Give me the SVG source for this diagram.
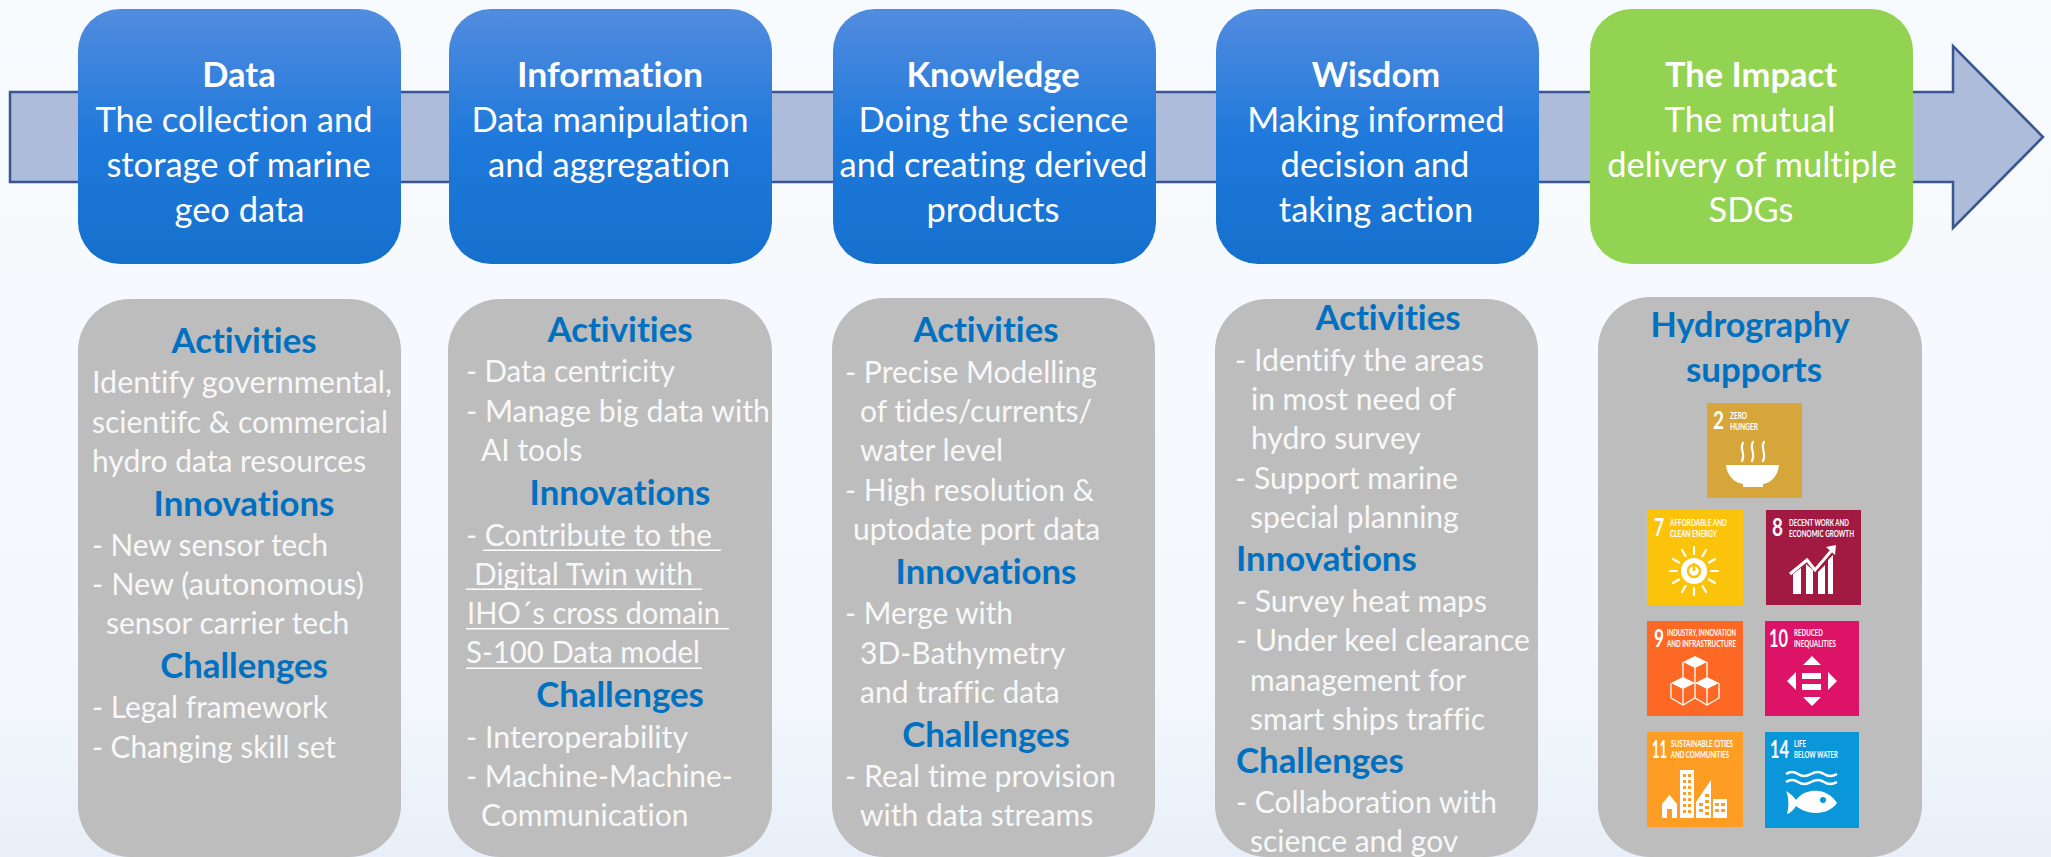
<svg xmlns="http://www.w3.org/2000/svg" width="2051" height="857" viewBox="0 0 2051 857">
<defs>
<linearGradient id="bg" x1="0" y1="0" x2="0" y2="1"><stop offset="0" stop-color="#f7fbfe"/><stop offset="0.8" stop-color="#f4f8fd"/><stop offset="1" stop-color="#e8eff8"/></linearGradient>
<linearGradient id="blue" x1="0" y1="0" x2="0" y2="1"><stop offset="0" stop-color="#528cdf"/><stop offset="0.5" stop-color="#1f79db"/><stop offset="1" stop-color="#1570cd"/></linearGradient>
</defs>
<style>
text{font-family:Lato,"Liberation Sans",sans-serif;fill:#fff;font-variant-ligatures:none}
.t{font-size:34.5px;text-anchor:middle}
.h{font-size:34.5px;text-anchor:middle;font-weight:700}
.b{font-size:30px;fill:#f8f8f8}
.g{font-size:34.8px;font-weight:700;fill:#0070c0;text-anchor:middle}
.gl{font-size:34.8px;font-weight:700;fill:#0070c0}
.card{fill:#bdbdbd}
.box{fill:url(#blue)}
.n{font-size:24px;font-weight:700}
.s{font-size:9.5px;font-weight:700}
.w{fill:#fff}
.l{fill:none;stroke:#fff;stroke-width:2.2;stroke-linecap:round;stroke-linejoin:round}
</style>
<rect width="2051" height="857" fill="url(#bg)"/>
<g id="connectors"><path d="M10 92H1953V46L2043 137L1953 228V182H10Z" fill="#adbcdb" stroke="#3b5590" stroke-width="2.5"/></g>
<g id="data"><rect class="box" x="78" y="9" width="323" height="255" rx="42"/>
<text class="h" x="239" y="87">Data</text><text class="t" x="234" y="132">The collection and</text><text class="t" x="238.500" y="177">storage of marine</text><text class="t" x="239.500" y="222">geo data</text></g>
<g id="information"><rect class="box" x="449" y="9" width="323" height="255" rx="42"/>
<text class="h" x="610" y="87" textLength="186" lengthAdjust="spacingAndGlyphs">Information</text><text class="t" x="610" y="132">Data manipulation</text><text class="t" x="609" y="177">and aggregation</text></g>
<g id="knowledge"><rect class="box" x="833" y="9" width="323" height="255" rx="42"/>
<text class="h" x="993" y="87">Knowledge</text><text class="t" x="993.500" y="132">Doing the science</text><text class="t" x="993.500" y="177">and creating derived</text><text class="t" x="993" y="222">products</text></g>
<g id="wisdom"><rect class="box" x="1216" y="9" width="323" height="255" rx="42"/>
<text class="h" x="1376" y="87">Wisdom</text><text class="t" x="1376" y="132">Making informed</text><text class="t" x="1375" y="177">decision and</text><text class="t" x="1376" y="222">taking action</text></g>
<g id="impact"><rect x="1590" y="9" width="323" height="255" rx="42" fill="#92d351"/>
<text class="h" x="1751" y="87">The Impact</text><text class="t" x="1750" y="132">The mutual</text><text class="t" x="1752" y="177">delivery of multiple</text><text class="t" x="1751" y="222">SDGs</text></g>

<g id="card-data"><rect class="card" x="78" y="299" width="323" height="558" rx="52"/>
<text class="g" x="244" y="353">Activities</text>
<text class="b" x="92" y="393" textLength="300" lengthAdjust="spacingAndGlyphs">Identify governmental,</text>
<text class="b" x="92" y="433" textLength="296" lengthAdjust="spacingAndGlyphs">scientifc &amp; commercial</text>
<text class="b" x="92" y="472">hydro data resources</text>
<text class="g" x="244" y="516">Innovations</text>
<text class="b" x="92" y="556" textLength="236" lengthAdjust="spacingAndGlyphs">- New sensor tech</text>
<text class="b" x="92" y="595" textLength="272" lengthAdjust="spacingAndGlyphs">- New (autonomous)</text>
<text class="b" x="106" y="634">sensor carrier tech</text>
<text class="g" x="244" y="678">Challenges</text>
<text class="b" x="92" y="718" textLength="236" lengthAdjust="spacingAndGlyphs">- Legal framework</text>
<text class="b" x="92" y="758" textLength="244" lengthAdjust="spacingAndGlyphs">- Changing skill set</text></g>

<g id="card-information"><rect class="card" x="448" y="299" width="324" height="558" rx="52"/>
<text class="g" x="620" y="342">Activities</text>
<text class="b" x="466" y="382" textLength="209" lengthAdjust="spacingAndGlyphs">- Data centricity</text>
<text class="b" x="466" y="422" textLength="304" lengthAdjust="spacingAndGlyphs">- Manage big data with</text>
<text class="b" x="481" y="461">AI tools</text>
<text class="g" x="620" y="505">Innovations</text>
<text class="b" x="466" y="546" textLength="246" lengthAdjust="spacingAndGlyphs">- Contribute to the</text><rect class="w" x="483" y="549.500" width="238" height="1.500"/>
<text class="b" x="474" y="585" textLength="219" lengthAdjust="spacingAndGlyphs">Digital Twin with</text><rect class="w" x="466" y="588.500" width="236" height="1.500"/>
<text class="b" x="467" y="624" textLength="253" lengthAdjust="spacingAndGlyphs">IHO´s cross domain</text><rect class="w" x="466" y="628" width="263" height="1.500"/>
<text class="b" x="466" y="663" textLength="234" lengthAdjust="spacingAndGlyphs">S-100 Data model</text><rect class="w" x="466" y="667.500" width="236" height="1.500"/>
<text class="g" x="620" y="707">Challenges</text>
<text class="b" x="466" y="748" textLength="222" lengthAdjust="spacingAndGlyphs">- Interoperability</text>
<text class="b" x="466" y="787" textLength="267" lengthAdjust="spacingAndGlyphs">- Machine-Machine-</text>
<text class="b" x="481" y="826">Communication</text></g>

<g id="card-knowledge"><rect class="card" x="832" y="298" width="323" height="559" rx="52"/>
<text class="g" x="986" y="342">Activities</text>
<text class="b" x="845" y="383" textLength="252" lengthAdjust="spacingAndGlyphs">- Precise Modelling</text>
<text class="b" x="860" y="422">of tides/currents/</text>
<text class="b" x="860" y="461">water level</text>
<text class="b" x="845" y="501" textLength="249" lengthAdjust="spacingAndGlyphs">- High resolution &amp;</text>
<text class="b" x="853" y="540">uptodate port data</text>
<text class="g" x="986" y="584">Innovations</text>
<text class="b" x="845" y="624" textLength="168" lengthAdjust="spacingAndGlyphs">- Merge with</text>
<text class="b" x="860" y="664">3D-Bathymetry</text>
<text class="b" x="860" y="703">and traffic data</text>
<text class="g" x="986" y="747">Challenges</text>
<text class="b" x="845" y="787" textLength="271" lengthAdjust="spacingAndGlyphs">- Real time provision</text>
<text class="b" x="860" y="826">with data streams</text></g>

<g id="card-wisdom"><rect class="card" x="1215" y="299" width="323" height="558" rx="52"/>
<text class="g" x="1388" y="330">Activities</text>
<text class="b" x="1235" y="371" textLength="249" lengthAdjust="spacingAndGlyphs">- Identify the areas</text>
<text class="b" x="1251" y="410">in most need of</text>
<text class="b" x="1251" y="449">hydro survey</text>
<text class="b" x="1235" y="489" textLength="223" lengthAdjust="spacingAndGlyphs">- Support marine</text>
<text class="b" x="1250" y="528">special planning</text>
<text class="gl" x="1236" y="571">Innovations</text>
<text class="b" x="1236" y="612" textLength="251" lengthAdjust="spacingAndGlyphs">- Survey heat maps</text>
<text class="b" x="1236" y="651" textLength="294" lengthAdjust="spacingAndGlyphs">- Under keel clearance</text>
<text class="b" x="1250" y="691">management for</text>
<text class="b" x="1250" y="730">smart ships traffic</text>
<text class="gl" x="1236" y="773">Challenges</text>
<text class="b" x="1236" y="813" textLength="261" lengthAdjust="spacingAndGlyphs">- Collaboration with</text>
<text class="b" x="1250" y="852">science and gov</text></g>

<g id="card-impact"><rect class="card" x="1598" y="297" width="324" height="560" rx="52"/>
<text class="g" x="1750" y="337" style="font-size:35px" textLength="199" lengthAdjust="spacingAndGlyphs">Hydrography</text>
<text class="g" x="1754" y="382" style="font-size:35px" textLength="136" lengthAdjust="spacingAndGlyphs">supports</text>

<g id="sdg2" transform="translate(1707 403)"><rect width="95" height="95" fill="#d7a63a"/>
<text class="n" x="6" y="26" textLength="11" lengthAdjust="spacingAndGlyphs">2</text><text class="s" x="23" y="16" textLength="17" lengthAdjust="spacingAndGlyphs">ZERO</text><text class="s" x="23" y="27" textLength="28" lengthAdjust="spacingAndGlyphs">HUNGER</text>
<path class="w" d="M19 62H72C71 73 64 80 56 81V84H36V81C28 80 20 73 19 62Z"/>
<path class="l" d="M36 40C32 46 39 50 35 58M46 39C42 45 49 50 45 58M57 39C53 45 60 50 56 58"/></g>

<g id="sdg7" transform="translate(1647 510)"><rect width="96" height="95" fill="#fcc30b"/>
<text class="n" x="7" y="26" textLength="10" lengthAdjust="spacingAndGlyphs">7</text><text class="s" x="23" y="16" textLength="57" lengthAdjust="spacingAndGlyphs">AFFORDABLE AND</text><text class="s" x="23" y="27" textLength="47" lengthAdjust="spacingAndGlyphs">CLEAN ENERGY</text>
<circle class="w" cx="47" cy="61" r="13"/><circle cx="47" cy="61" r="6" fill="none" stroke="#fcc30b" stroke-width="2.500"/><path d="M47 53V61" stroke="#fcc30b" stroke-width="2.500"/>
<path class="l" d="M47 37V44M47 78V85M23 61H30M64 61H71M35 40L38.500 46M55.500 76L59 82M26 49L32 52.500M62 69.500L68 73M26 73L32 69.500M62 52.500L68 49M35 82L38.500 76M55.500 46L59 40"/></g>

<g id="sdg8" transform="translate(1766 510)"><rect width="95" height="95" fill="#a21942"/>
<text class="n" x="6" y="26" textLength="11" lengthAdjust="spacingAndGlyphs">8</text><text class="s" x="23" y="16" textLength="60" lengthAdjust="spacingAndGlyphs">DECENT WORK AND</text><text class="s" x="23" y="27" textLength="65" lengthAdjust="spacingAndGlyphs">ECONOMIC GROWTH</text>
<path class="w" d="M27 84V64L35 58V84ZM40 84V54L47 60V84ZM52 84V62L59 55V84ZM62 84V50L67 45V84Z"/>
<path d="M24 64L41 50L49 60L66 40" fill="none" stroke="#fff" stroke-width="3"/><path class="w" d="M60 37L70 35L69 45Z"/></g>

<g id="sdg9" transform="translate(1647 621)"><rect width="96" height="95" fill="#fd6925"/>
<text class="n" x="7" y="26" textLength="10" lengthAdjust="spacingAndGlyphs">9</text><text class="s" x="20" y="15" textLength="69" lengthAdjust="spacingAndGlyphs">INDUSTRY, INNOVATION</text><text class="s" x="20" y="26" textLength="69" lengthAdjust="spacingAndGlyphs">AND INFRASTRUCTURE</text>
<path class="w" d="M36 41L48 35L60 41L48 47Z"/><path class="w" d="M24 62L36 56L48 62L36 68Z"/><path class="w" d="M48 62L60 56L72 62L60 68Z"/>
<path fill="none" stroke="#fff" stroke-width="1.300" d="M36 41V56M60 41V56M48 47V62M24 62V77L36 84L48 77L60 84L72 77V62M36 68V84M60 68V84M48 62V77"/></g>

<g id="sdg10" transform="translate(1765 621)"><rect width="94" height="95" fill="#dd1367"/>
<text class="n" x="4" y="26" textLength="19" lengthAdjust="spacingAndGlyphs">10</text><text class="s" x="29" y="15" textLength="29" lengthAdjust="spacingAndGlyphs">REDUCED</text><text class="s" x="29" y="26" textLength="42" lengthAdjust="spacingAndGlyphs">INEQUALITIES</text>
<path class="w" d="M47 35L56 44H38ZM47 85L56 76H38ZM22 60L31 51V69ZM72 60L63 51V69ZM37 52H56V58H37ZM37 63H56V69H37Z"/></g>

<g id="sdg11" transform="translate(1647 732)"><rect width="96" height="95" fill="#fd9d24"/>
<text class="n" x="5" y="26" textLength="15" lengthAdjust="spacingAndGlyphs">11</text><text class="s" x="24" y="15" textLength="62" lengthAdjust="spacingAndGlyphs">SUSTAINABLE CITIES</text><text class="s" x="24" y="26" textLength="58" lengthAdjust="spacingAndGlyphs">AND COMMUNITIES</text>
<path class="w" d="M15 72L22.500 63L30 72V86H25V77H20V86H15ZM33 38H47V86H33ZM49 70L64 48V86H49ZM66 67H80V86H66Z"/>
<path fill="#fd9d24" d="M36 42h3v3h-3zM41 42h3v3h-3zM36 48h3v3h-3zM41 48h3v3h-3zM36 54h3v3h-3zM41 54h3v3h-3zM36 60h3v3h-3zM41 60h3v3h-3zM36 66h3v3h-3zM41 66h3v3h-3zM36 72h3v3h-3zM41 72h3v3h-3zM36 78h3v3h-3zM41 78h3v3h-3zM52 71h4v3h-4zM58 62h4v3h-4zM58 68h4v3h-4zM52 77h4v3h-4zM58 74h4v3h-4zM58 80h4v3h-4zM68 71h4v3h-4zM74 71h4v3h-4zM68 77h4v3h-4zM74 77h4v3h-4z"/></g>

<g id="sdg14" transform="translate(1765 732)"><rect width="94" height="96" fill="#0a97d9"/>
<text class="n" x="5" y="26" textLength="19" lengthAdjust="spacingAndGlyphs">14</text><text class="s" x="29" y="15" textLength="12" lengthAdjust="spacingAndGlyphs">LIFE</text><text class="s" x="29" y="26" textLength="44" lengthAdjust="spacingAndGlyphs">BELOW WATER</text>
<path fill="none" stroke="#fff" stroke-width="2.500" d="M21 42Q27 38 33 42T46 42T59 42T72 42M21 50Q27 46 33 50T46 50T59 50T72 50"/>
<path class="w" d="M21 59C26 62 29 65 31 68C37 60 46 58 54 59C62 60 68 65 72 71C68 77 60 81 51 81C43 81 36 78 31 74C29 77 26 81 22 82C24 76 24 65 21 59Z"/><circle cx="58" cy="68" r="3" fill="#0a97d9"/></g>
</g>
</svg>
